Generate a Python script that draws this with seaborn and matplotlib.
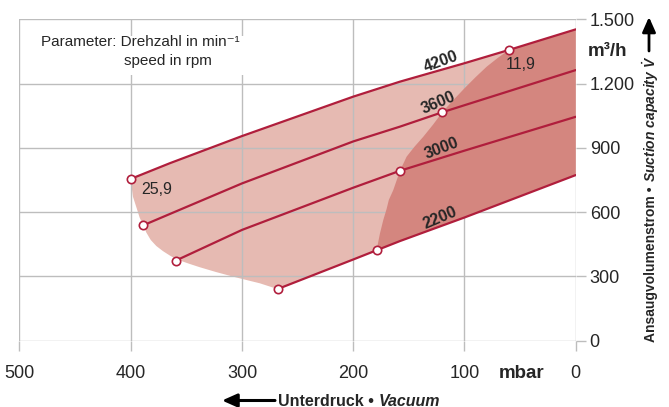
import pandas as pd
import seaborn as sns
import matplotlib.pyplot as plt
from matplotlib.patches import Rectangle

# Kennlinien: Unterdruck (mbar) -> Ansaugvolumenstrom (m3/h)
speeds = [4200, 3600, 3000, 2200]
p_4200 = [400, 365, 300, 200, 158, 100, 60, 0]
q_4200 = [755, 828, 955, 1139, 1209, 1295, 1357, 1453]
p_3600 = [389, 365, 300, 200, 158, 120, 100, 0]
q_3600 = [538, 591, 734, 930, 999, 1066, 1099, 1263]
p_3000 = [359, 300, 200, 158, 100, 0]
q_3000 = [375, 517, 714, 793, 887, 1045]
p_2200 = [268, 200, 179, 158, 100, 0]
q_2200 = [241, 379, 422, 465, 575, 773]

# marked operating points
dot_p = [400, 389, 359, 268, 60, 120, 158, 179]
dot_q = [755, 538, 373, 241, 1357, 1066, 793, 422]

# left edge of the light area (from 25,9 point down to 2200 curve)
edge_light_p = [400, 399, 398, 396, 394, 392, 389, 386, 382, 377, 371, 365,
                359, 348, 338, 323, 308, 295, 284, 268]
edge_light_q = [755, 712, 672, 640, 608, 575, 540, 505, 470, 442, 418, 398,
                380, 360, 343, 320, 299, 282, 268, 241]
# left edge of the dark area (from 2200 curve up to 11,9 point)
edge_dark_p = [179, 176, 173, 170, 168, 164, 158, 152, 145, 137, 128, 120,
               110, 100, 90, 80, 70, 60]
edge_dark_q = [422, 500, 563, 615, 657, 703, 793, 859, 905, 952, 1010, 1066,
               1123, 1178, 1230, 1279, 1320, 1357]

xticks = [500, 400, 300, 200, 100, 0]
yticks = [0, 300, 600, 900, 1200, 1500]
ytick_labels = ['0', '300', '600', '900', '1.200', '1.500']

RED = '#b01e3c'
LIGHT = '#e6bab2'
DARK = '#d4867f'
GRID = '#bdbdbd'

sns.set_style('white')
plt.rcParams['font.family'] = ['Liberation Sans', 'DejaVu Sans']
plt.rcParams['mathtext.fontset'] = 'custom'
plt.rcParams['mathtext.it'] = 'Liberation Sans:bold:italic'
plt.rcParams['mathtext.rm'] = 'Liberation Sans:bold:italic'

fig = plt.figure(figsize=(6.69, 4.07), dpi=100)
ax = fig.add_axes([0.0291, 0.1629, 0.8315, 0.7897])

curves = {4200: (p_4200, q_4200), 3600: (p_3600, q_3600),
          3000: (p_3000, q_3000), 2200: (p_2200, q_2200)}
df = pd.concat([pd.DataFrame({'p': p, 'q': q, 'speed': s})
                for s, (p, q) in curves.items()], ignore_index=True)

# shaded areas
ax.fill(p_4200 + p_2200[::-1] + edge_light_p[::-1][1:-1],
        q_4200 + q_2200[::-1] + edge_light_q[::-1][1:-1],
        color=LIGHT, lw=0, zorder=0.3)
top = [(p, q) for p, q in zip(p_4200, q_4200) if p <= 60]
bot = [(p, q) for p, q in zip(p_2200, q_2200) if p <= 179]
dark_x = [p for p, _ in top] + [p for p, _ in bot[::-1]] + edge_dark_p[1:-1]
dark_y = [q for _, q in top] + [q for _, q in bot[::-1]] + edge_dark_q[1:-1]
ax.fill(dark_x, dark_y, color=DARK, lw=0, zorder=1)

sns.lineplot(data=df, x='p', y='q', hue='speed', palette=[RED] * 4,
             estimator=None, legend=False, lw=1.6, ax=ax, zorder=2)
sns.scatterplot(x=dot_p, y=dot_q, color='white', edgecolor=RED, s=36,
                linewidth=1.2, ax=ax, zorder=3)

ax.set_xlim(500, 0)
ax.set_ylim(0, 1500)
ax.set_xticks(xticks)
ax.set_xticklabels([str(t) for t in xticks])
ax.yaxis.tick_right()
ax.set_yticks(yticks)
ax.set_yticklabels(ytick_labels)
ax.set_xlabel('')
ax.set_ylabel('')
ax.set_axisbelow(True)
ax.grid(True, color=GRID, lw=1.0)
for s in ax.spines.values():
    s.set_visible(False)
ax.tick_params(axis='x', bottom=True, length=7.5, width=1, color=GRID,
               labelsize=13, pad=10)
ax.tick_params(axis='y', right=True, left=False, length=7, width=1,
               color=GRID, labelsize=13, pad=3)

# white patch behind parameter note
ax.add_patch(Rectangle((0.195, 0.827), 0.215, 0.121, transform=ax.transAxes,
                       color='white', lw=0, zorder=0.6))
ax.text(0.038, 0.93, 'Parameter: Drehzahl in min\u207b\u00b9',
        transform=ax.transAxes, fontsize=11, va='center', ha='left')
ax.text(0.188, 0.871, 'speed in rpm', transform=ax.transAxes,
        fontsize=11, va='center', ha='left')

# speed labels
label_pos = {4200: (121.5, 1302, 20), 3600: (124, 1111, 23),
             3000: (120.5, 898, 21), 2200: (121.5, 571, 23)}
for s in speeds:
    x, y, r = label_pos[s]
    ax.text(x, y, str(s), fontsize=11.5, fontweight='bold', rotation=r,
            ha='center', va='center', rotation_mode='anchor')
ax.text(376.4, 707, '25,9', fontsize=11.5, ha='center', va='center')
ax.text(49.4, 1287, '11,9', fontsize=11.5, ha='center', va='center')

# unit labels
fig.text(588 / 669, 1 - 52 / 407, 'm\u00b3/h', fontsize=13.5,
         fontweight='bold', ha='left', va='center')
fig.text(521.3 / 669, 1 - 373.5 / 407, 'mbar', fontsize=13.5,
         fontweight='bold', ha='center', va='center')

# bottom axis title with arrow
t1 = fig.text(278 / 669, 1.5 / 407, 'Unterdruck \u2022 ', fontsize=11.5,
              fontweight='bold', ha='left', va='baseline')
ax.annotate('Vacuum', xy=(1, 0), xycoords=t1, fontsize=11.5,
            fontweight='bold', style='italic', ha='left', va='bottom',
            annotation_clip=False)
ax.annotate('', xy=(222, 6.5), xytext=(275, 6.5), xycoords='figure pixels',
            textcoords='figure pixels', annotation_clip=False,
            arrowprops=dict(arrowstyle='-|>,head_length=0.9,head_width=0.4',
                            color='black', lw=2.2, shrinkA=0, shrinkB=0))

# right axis title with arrow
t2 = fig.text(651 / 669, 1 - 342 / 407, 'Ansaugvolumenstrom \u2022 ',
              fontsize=10, fontweight='bold', rotation=90,
              ha='center', va='bottom')
ax.annotate(r'Suction capacity $\dot{V}$', xy=(0.5, 1), xycoords=t2,
            fontsize=10, fontweight='bold', style='italic', rotation=90,
            ha='center', va='bottom', annotation_clip=False)
ax.annotate('', xy=(649, 390), xytext=(649, 356), xycoords='figure pixels',
            textcoords='figure pixels', annotation_clip=False,
            arrowprops=dict(arrowstyle='-|>,head_length=0.9,head_width=0.4',
                            color='black', lw=2.0, shrinkA=0, shrinkB=0))

fig.savefig('out.png', dpi=100)
